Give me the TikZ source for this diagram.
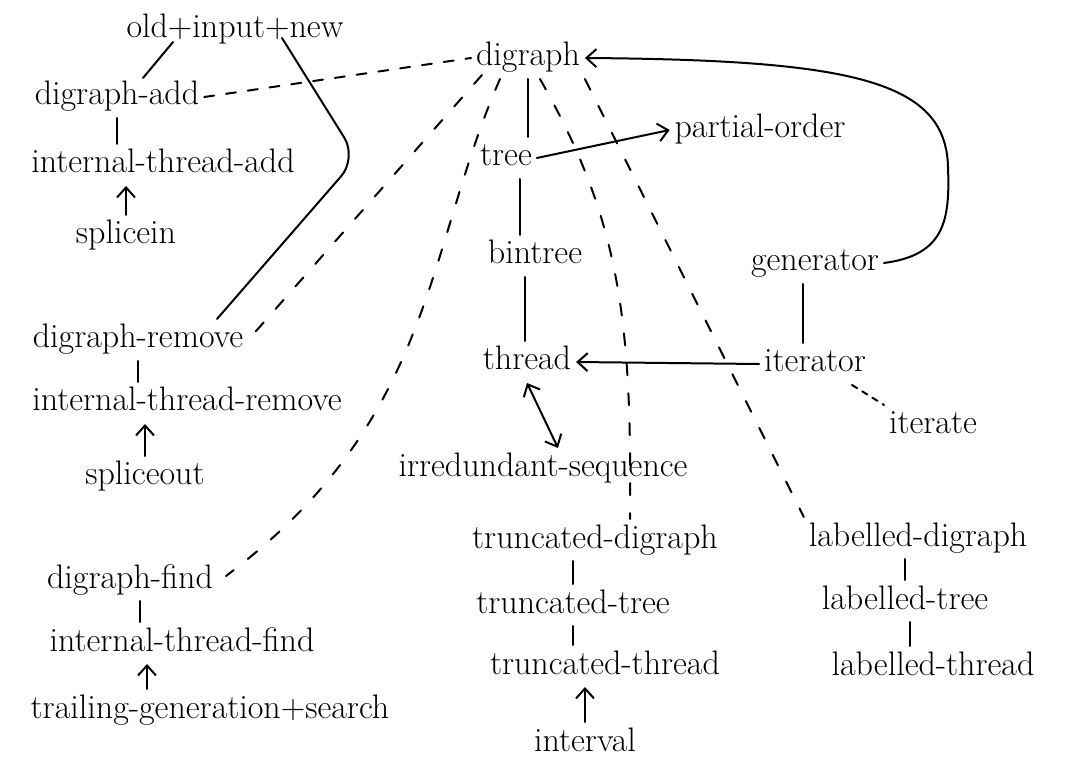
\documentclass[tikz,border=0pt]{standalone}
\usetikzlibrary{calc,arrows.meta}
\begin{document}
\begin{tikzpicture}[x=0.5pt, y=-0.5pt, line width=1pt, line cap=round,
    lib/.style={inner sep=2pt, text height=12pt, text depth=4pt, font=\fontsize{17}{20}\selectfont},
    dep/.style={dash pattern=on 6pt off 9pt},
    >={Straight Barb[length=5pt,width=9pt]}]

    \useasboundingbox (0,0) rectangle (1071,764);

    % Left column
    \node[lib] (old) at (235,30) {old+input+new};
    \node[lib] (add) at (117,97) {digraph-add};
    \node[lib] (intadd) at (163,165) {internal-thread-add};
    \node[lib] (splicein) at (126,236) {splicein};
    \node[lib] (rm) at (138,340) {digraph-remove};
    \node[lib] (intrm) at (187,403) {internal-thread-remove};
    \node[lib] (spliceout) at (145,477) {spliceout};
    \node[lib] (find) at (130,580) {digraph-find};
    \node[lib] (intfind) at (182,643) {internal-thread-find};
    \node[lib] (trail) at (210,710) {trailing-generation+search};

    % Middle column
    \node[lib] (digraph) at (528,58) {digraph};
    \node[lib] (tree) at (506,158) {tree};
    \node[lib] (bintree) at (535,256) {bintree};
    \node[lib] (thread) at (527,362) {thread};
    \node[lib] (irred) at (543,469) {irredundant-sequence};
    \node[lib] (tdig) at (595,540) {truncated-digraph};
    \node[lib] (ttree) at (573,605) {truncated-tree};
    \node[lib] (tthr) at (605,666) {truncated-thread};
    \node[lib] (interval) at (585,743) {interval};

    % Right column
    \node[lib] (porder) at (760,130) {partial-order};
    \node[lib] (gen) at (815,263) {generator};
    \node[lib] (iter) at (815,364) {iterator};
    \node[lib] (iterate) at (933,426) {iterate};
    \node[lib] (ldig) at (918,538) {labelled-digraph};
    \node[lib] (ltree) at (905,601) {labelled-tree};
    \node[lib] (lthr) at (933,667) {labelled-thread};

    % Left links
    \coordinate (bend) at (357,158);
    \draw ($(old)+(-62,12)$) -- ($(add)+(26,-19)$);
    \draw[rounded corners=12pt] ($(old)+(47,8)$) -- (bend) -- ($(rm.north)+(79,0)$);
    \draw (add.south) -- (add.south |- intadd.north);
    \draw[->] (splicein.north) -- (splicein.north |- intadd.south);
    \draw (rm.south) -- (rm.south |- intrm.north);
    \draw[->] (spliceout.north) -- (spliceout.north |- intrm.south);
    \draw ([xshift=5pt]find.south) -- ([xshift=5pt]find.south |- intfind.north);
    \draw[->] ([xshift=-31.5pt]trail.north) -- ([xshift=-31.5pt]trail.north |- intfind.south);

    % Links to digraph
    \draw[dash pattern=on 5pt off 6pt] (add.east) -- (digraph.west);
    \draw[dep] ($(digraph)+(-46,17)$) -- (rm.east);
    \draw[dep] ($(digraph.south)+(-28,0)$) .. controls (425,250) and (435,420) .. ($(find.east)+(8,-4)$);
    \draw (digraph.south) -- (digraph.south |- tree.north);
    \draw[dep] ($(digraph.south)+(12,0)$) .. controls (620,220) and (632,320) .. ($(tdig.north)+(35,0)$);
    \draw[dep] (digraph.south east) -- (ldig.north west);
    \draw[->] (gen.east) .. controls (945,255) and (950,220) .. (948,167)
        .. controls (946,80) and (850,60) .. (digraph.east);

    % Middle links
    \draw[->] (tree.east) -- (porder.west);
    \draw ([xshift=7pt]tree.south) -- ([xshift=7pt]tree.south |- bintree.north);
    \draw ([xshift=-5pt]bintree.south) -- ([xshift=-5pt]bintree.south |- thread.north);
    \draw[<->] (thread.south) -- ($(irred.north)+(15,0)$);
    \draw (ttree.north) -- (ttree.north |- tdig.south);
    \draw (ttree.south) -- (ttree.south |- tthr.north);
    \draw[->] (interval.north) -- (interval.north |- tthr.south);

    % Right links
    \draw ([xshift=-6pt]gen.south) -- ([xshift=-6pt]gen.south |- iter.north);
    \draw[->] (iter.west) -- (thread.east);
    \draw[dash pattern=on 3pt off 3pt] ($(iter.south)+(37,0)$) -- (iterate.north west);
    \draw (ltree.north) -- (ltree.north |- ldig.south);
    \draw ([xshift=2.5pt]ltree.south) -- ([xshift=2.5pt]ltree.south |- lthr.north);
\end{tikzpicture}
\end{document}
